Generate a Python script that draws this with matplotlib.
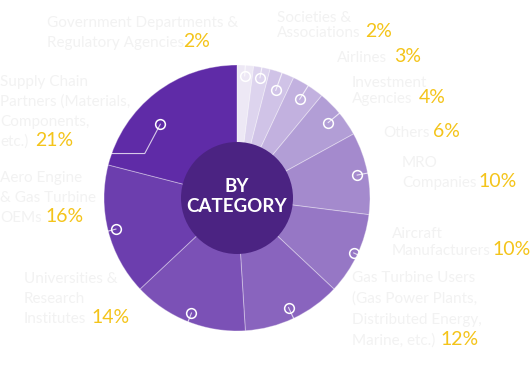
import numpy as np
import matplotlib
matplotlib.use("Agg")
from matplotlib import pyplot
from matplotlib.patches import Circle

# Data (clockwise from 12 o'clock)

categories = [
    "Government Departments &\nRegulatory Agencies",
    "Societies &\nAssociations",
    "Airlines",
    "Investment\nAgencies",
    "Others",
    "MRO\nCompanies",
    "Aircraft\nManufacturers",
    "Gas Turbine Users\n(Gas Power Plants,\nDistributed Energy,\nMarine, etc.)",
    "Universities &\nResearch\nInstitutes",
    "Aero Engine\n& Gas Turbine\nOEMs",
    "Supply Chain\nPartners (Materials,\nComponents,\netc.)",
]
shares = [2, 2, 3, 4, 6, 10, 10, 12, 14, 16, 21]

sliceColors = ["#ede8f5", "#ddd4ee", "#d0c3e7", "#c2b1df", "#b29ed6",
               "#a48acd", "#9677c5", "#8964be", "#7b51b6", "#6c3eae", "#5f2ba7"]
centerColor = "#4b2382"
labelColor = "#f2f2f2"
pctColor = "#f4c41a"

# Layout, in pixels from the top-left corner

W, H = 530, 370
cx, cy = 237, 370 - 198
R = 133
innerR = 56

labelX = [47, 277, 337, 352, 383, 402, 392, 352, 24, 0, 0]
labelY = [27, 22, 62, 87, 137, 167, 238, 282, 283, 182, 86]   # first baseline
lineStep = [20, 15, 20, 16, 20, 20, 17, 21, 20, 20, 20]
pctX = [183, 365, 394, 419, 433, 478, 492, 440, 91, 45, 35]

# Marker placement: radius fraction and position inside the slice (clockwise)
markerR = [0.92, 0.92, 0.86, 0.88, 0.89, 0.92, 0.97, 0.91, 0.93, 0.94, 0.80]
markerPos = [0.5, 0.5, 0.5, 0.5, 0.5, 0.5, 0.5, 0.5, 0.5, 0.5, 0.39]
# Leader elbow: radius fraction and position inside the slice
elbowR = [1.12, 1.12, 1.12, 1.12, 1.12, 1.12, 1.12, 1.12, 1.12, 1.12, 0.77]
elbowPos = [0.5, 0.5, 0.5, 0.5, 0.5, 0.5, 0.5, 0.5, 0.5, 0.5, 0.15]

# Figure

fig = pyplot.figure(figsize=(W / 100, H / 100), dpi=100)
ax = fig.add_axes([0, 0, 1, 1])

wedges, _ = ax.pie(shares, colors=sliceColors, startangle=90, counterclock=False,
                   center=(cx, cy), radius=R,
                   wedgeprops=dict(edgecolor=(1, 1, 1, 0.35), linewidth=0.7))

ax.add_patch(Circle((cx, cy), innerR, facecolor=centerColor, edgecolor="none", zorder=3))
ax.text(cx, cy + 12, "BY", color="white", fontsize=13.5, fontweight="bold",
        family="Lato", ha="center", va="center", zorder=4)
ax.text(cx, cy - 9, "CATEGORY", color="white", fontsize=13.5, fontweight="bold",
        family="Lato", ha="center", va="center", zorder=4)

# Markers and leader lines

def polar(frac, angleDeg):
    theta = np.radians(angleDeg)
    return cx + frac * R * np.cos(theta), cy + frac * R * np.sin(theta)

cumulative = np.cumsum([0] + shares[:-1])
for i in range(len(shares)):
    mAngle = 90 - (cumulative[i] + shares[i] * markerPos[i]) * 3.6
    eAngle = 90 - (cumulative[i] + shares[i] * elbowPos[i]) * 3.6
    mx, my = polar(markerR[i], mAngle)
    ex, ey = polar(elbowR[i], eAngle)
    tx = ex - 40 if ex < cx else ex + 15
    ax.plot([mx, ex, tx], [my, ey, ey], color=(1, 1, 1, 0.75), linewidth=0.8, zorder=4)
    ax.plot(mx, my, "o", markerfacecolor="none", markeredgecolor="white",
            markersize=7, markeredgewidth=1.1, zorder=5)

# Labels

for i in range(len(categories)):
    lines = categories[i].split("\n")
    for j, line in enumerate(lines):
        yTemp = H - (labelY[i] + j * lineStep[i])
        ax.text(labelX[i], yTemp, line, color=labelColor, fontsize=11,
                family="Lato", ha="left", va="baseline")
    lastY = H - (labelY[i] + (len(lines) - 1) * lineStep[i])
    ax.text(pctX[i], lastY, "{0}%".format(shares[i]), color=pctColor,
            fontsize=14, family="Lato", ha="left", va="baseline")

ax.set_xlim(0, W)
ax.set_ylim(0, H)
ax.set_aspect("equal")
ax.axis("off")

fig.savefig("out.png", dpi=100, facecolor="white")
pyplot.close()
